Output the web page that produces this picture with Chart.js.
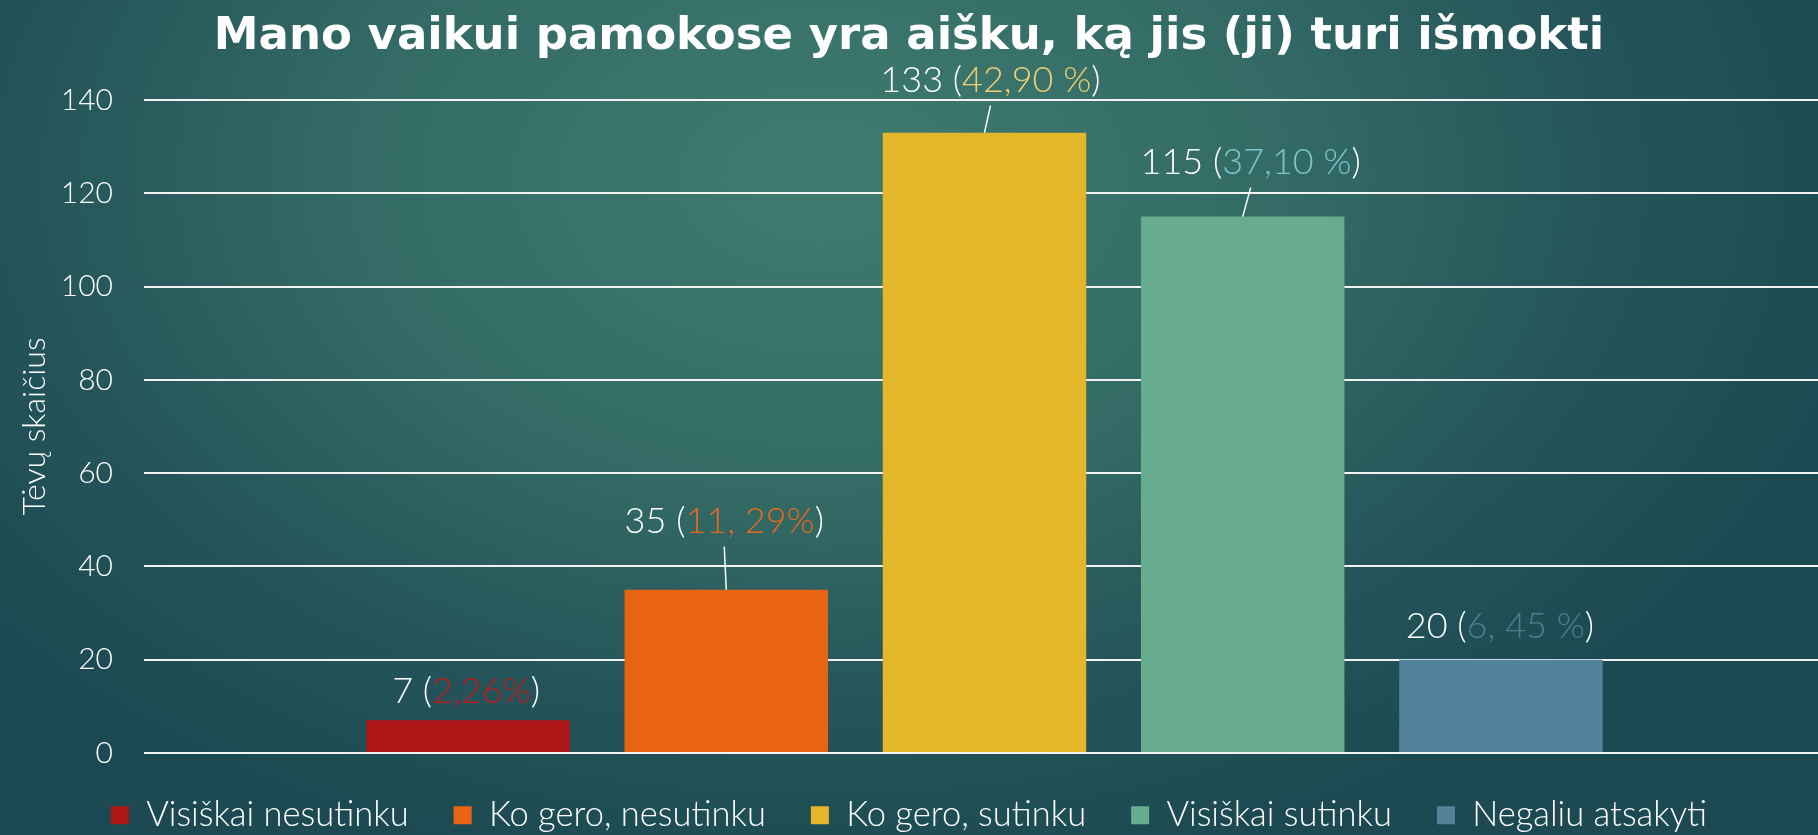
<!DOCTYPE html>
<html>
<head>
<meta charset="utf-8">
<script src="https://cdn.jsdelivr.net/npm/chart.js@4/dist/chart.umd.min.js"></script>
<style>
    html, body { margin: 0; padding: 0; }
    body {
        width: 1818px; height: 835px; overflow: hidden;
        background: radial-gradient(ellipse 1050px 700px at 820px 180px, #3f7c70 0%, #336a65 45%, #25555a 75%, #1d4a52 100%);
    }
    #wrap { position: relative; width: 1818px; height: 835px; }
</style>
</head>
<body>
<div id="wrap"><canvas id="chart" width="1818" height="835"></canvas></div>
<script>
// Data
const categories = ['Visiškai nesutinku', 'Ko gero, nesutinku', 'Ko gero, sutinku', 'Visiškai sutinku', 'Negaliu atsakyti'];
const counts = [7, 35, 133, 115, 20];
const percentTexts = ['2,26%', '11, 29%', '42,90 %', '37,10 %', '6, 45 %'];
const yTicks = [0, 20, 40, 60, 80, 100, 120, 140];

// Styles
const barColors = ['#ae1515', '#e86413', '#e4b62a', '#68ac8f', '#52839a'];
const percentColors = ['#c01c1c', '#ea6a1c', '#f1cf73', '#7cc6cc', '#4d7d93'];
// label offset from bar top (dx, dy in px) and whether a leader line is drawn
const labelDx = [-2, -2, 6, 8, -1];
const labelDy = [29, 68, 52, 54, 33];
const labelLeader = [false, true, true, true, false];

const lightFont = 'Lato, "Noto Sans", sans-serif';

const valueLabels = {
    id: 'valueLabels',
    afterDatasetsDraw(chart) {
        const ctx = chart.ctx;
        const meta = chart.getDatasetMeta(0);
        ctx.save();
        ctx.font = '300 36px ' + lightFont;
        ctx.textBaseline = 'middle';
        meta.data.forEach((bar, i) => {
            const parts = [
                [counts[i] + ' (', '#ffffff'],
                [percentTexts[i], percentColors[i]],
                [')', '#ffffff']
            ];
            const total = parts.reduce((s, p) => s + ctx.measureText(p[0]).width, 0);
            const cx = bar.x + labelDx[i];
            const cy = bar.y - labelDy[i];
            let x = cx - total / 2;
            parts.forEach(([txt, col]) => {
                ctx.fillStyle = col;
                ctx.fillText(txt, x, cy);
                x += ctx.measureText(txt).width;
            });
            if (labelLeader[i]) {
                ctx.strokeStyle = '#ffffff';
                ctx.lineWidth = 1.5;
                ctx.beginPath();
                ctx.moveTo(cx, cy + 25);
                ctx.lineTo(bar.x, bar.y);
                ctx.stroke();
            }
        });
        ctx.restore();
    }
};

// squeeze the legend box so the plot reaches down to it
const legendFit = {
    id: 'legendFit',
    beforeInit(chart) {
        const fit = chart.legend.fit;
        chart.legend.fit = function () {
            fit.call(this);
            this.height = 82;
        };
    }
};

new Chart(document.getElementById('chart'), {
    type: 'bar',
    data: {
        labels: categories,
        datasets: [{
            data: counts.map((v, i) => ({ x: i + 1, y: v })),
            backgroundColor: barColors,
            borderWidth: 0,
            categoryPercentage: 0.788,
            barPercentage: 1
        }]
    },
    options: {
        responsive: false,
        animation: false,
        layout: { padding: { left: 0, right: 0, top: 0, bottom: 0 } },
        scales: {
            x: {
                type: 'linear',
                display: false,
                offset: false,
                min: -0.255,
                max: 6.228,
                ticks: { stepSize: 1, includeBounds: false }
            },
            y: {
                min: 0,
                max: 140,
                afterBuildTicks: axis => { axis.ticks = yTicks.map(v => ({ value: v })); },
                afterFit: axis => { axis.width = 144; },
                border: { display: false },
                grid: { color: '#f2f2f2', lineWidth: 2, drawTicks: false },
                ticks: {
                    color: '#ffffff',
                    padding: 31,
                    font: { family: lightFont, size: 30, weight: '300' }
                },
                title: {
                    display: true,
                    text: 'Tėvų skaičius',
                    color: '#ffffff',
                    padding: { top: 15, bottom: 0 },
                    font: { family: lightFont, size: 32, weight: '300' }
                }
            }
        },
        plugins: {
            title: {
                display: true,
                text: 'Mano vaikui pamokose yra aišku, ką jis (ji) turi išmokti',
                color: '#ffffff',
                font: { family: '"DejaVu Sans", sans-serif', size: 45, weight: 'bold' },
                padding: { top: 10, bottom: 36 }
            },
            legend: {
                position: 'bottom',
                labels: {
                    color: '#ffffff',
                    boxWidth: 18,
                    boxHeight: 18,
                    padding: 45,
                    font: { family: lightFont, size: 34.5, weight: '300' },
                    generateLabels: () => categories.map((c, i) => ({
                        text: c,
                        fillStyle: barColors[i],
                        strokeStyle: barColors[i],
                        lineWidth: 0,
                        fontColor: '#ffffff',
                        index: i
                    }))
                }
            },
            tooltip: { enabled: false }
        }
    },
    plugins: [valueLabels, legendFit]
});
</script>
</body>
</html>
